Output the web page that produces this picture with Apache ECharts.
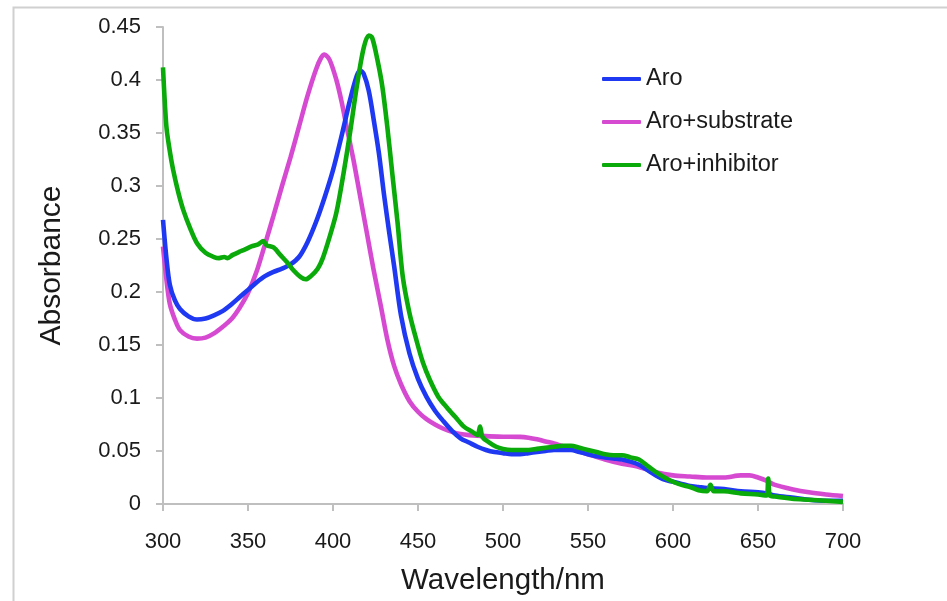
<!DOCTYPE html>
<html>
<head>
<meta charset="utf-8">
<script src="https://cdn.jsdelivr.net/npm/echarts@6/dist/echarts.min.js"></script>
<style>
html,body{margin:0;padding:0;background:#fff;}
#chart{width:947px;height:601px;}
</style>
</head>
<body>
<div id="chart"></div>
<script>
// Series names
const seriesNames = ['Aro', 'Aro+substrate', 'Aro+inhibitor'];

// Aro
const aroX = [300,302,304,307,310,315,320,325,330,335,340,345,350,355,360,365,370,375,380,385,390,395,400,405,410,414,416,418,421,424,427,430,433,436,440,445,450,455,460,465,470,475,480,485,490,495,500,505,510,515,520,525,530,535,540,545,550,555,560,565,570,575,580,585,590,595,600,605,610,615,620,630,640,650,655,660,670,680,690,700];
const aroY = [0.268,0.232,0.207,0.192,0.184,0.177,0.174,0.175,0.178,0.182,0.188,0.195,0.202,0.209,0.215,0.219,0.222,0.226,0.233,0.247,0.266,0.289,0.315,0.347,0.381,0.404,0.409,0.406,0.390,0.362,0.331,0.292,0.257,0.224,0.178,0.142,0.118,0.101,0.088,0.078,0.069,0.062,0.058,0.054,0.051,0.049,0.048,0.047,0.047,0.048,0.049,0.050,0.051,0.051,0.051,0.049,0.047,0.045,0.044,0.043,0.042,0.040,0.037,0.032,0.027,0.023,0.021,0.019,0.017,0.016,0.015,0.014,0.012,0.011,0.010,0.008,0.006,0.004,0.003,0.003];

// Aro+substrate
const subX = [300,302,304,307,310,315,320,325,330,335,340,345,350,355,360,365,370,375,380,385,390,393,395,398,402,405,408,412,416,420,424,428,432,436,440,445,450,455,460,465,470,475,480,490,500,510,515,520,525,530,540,550,560,570,580,590,600,610,620,630,640,645,650,655,660,670,680,690,700];
const subY = [0.243,0.212,0.189,0.174,0.164,0.158,0.156,0.157,0.161,0.167,0.174,0.185,0.199,0.219,0.245,0.272,0.300,0.327,0.356,0.385,0.410,0.421,0.424,0.419,0.400,0.380,0.356,0.325,0.290,0.255,0.220,0.188,0.155,0.130,0.113,0.097,0.087,0.080,0.075,0.071,0.068,0.066,0.065,0.064,0.0635,0.0633,0.0625,0.061,0.059,0.057,0.052,0.047,0.042,0.038,0.035,0.030,0.027,0.026,0.025,0.025,0.027,0.027,0.025,0.022,0.018,0.014,0.011,0.009,0.0075];

// Aro+inhibitor
const inhX = [300,302,304,306,309,312,316,320,325,330,333,336,338,341,345,348,352,356,359,361,365,369,373,377,381,384,387,391,394,398,402,406,410,414,418,421,423,426,429,432,435,438,441,445,449,453,457,462,467,472,477,482,485,486.5,488,492,496,500,505,510,515,520,525,530,535,540,545,550,555,560,565,570,575,580,585,590,595,600,605,610,615,620,622,624,630,640,650,655,656,657,660,670,680,690,700];
const inhY = [0.412,0.356,0.333,0.315,0.294,0.277,0.260,0.246,0.237,0.233,0.232,0.233,0.232,0.235,0.238,0.240,0.243,0.245,0.248,0.244,0.242,0.235,0.228,0.220,0.214,0.212,0.215,0.222,0.232,0.252,0.275,0.310,0.350,0.394,0.430,0.442,0.440,0.420,0.394,0.355,0.310,0.265,0.215,0.180,0.155,0.133,0.117,0.101,0.091,0.082,0.073,0.068,0.065,0.073,0.063,0.058,0.054,0.052,0.051,0.051,0.051,0.052,0.053,0.054,0.055,0.055,0.053,0.051,0.049,0.047,0.046,0.046,0.044,0.042,0.036,0.030,0.025,0.021,0.018,0.016,0.013,0.012,0.018,0.012,0.012,0.010,0.009,0.008,0.024,0.008,0.007,0.005,0.004,0.003,0.002];

// Axis settings
const xMin = 300, xMax = 700, xStep = 50;
const yMin = 0, yMax = 0.45, yStep = 0.05;

const colors = ['#1f38f2', '#d64ad2', '#0aaa0a'];
const FONT = '"Liberation Sans", Arial, sans-serif';

function pairs(xs, ys) { return xs.map((x, i) => [x, ys[i]]); }

const chart = echarts.init(document.getElementById('chart'), null, {renderer: 'canvas'});
const axisLine = {show: true, lineStyle: {color: '#bfbfbf', width: 2}};
chart.setOption({
  animation: false,
  backgroundColor: '#fff',
  color: colors,
  graphic: [{
    type: 'rect', left: 11, top: 5, silent: true,
    shape: {x: 0, y: 0, width: 1000, height: 700},
    style: {fill: 'none', stroke: '#d0d0d0', lineWidth: 2}
  }],
  grid: {left: 163, right: 104, top: 27, bottom: 97, containLabel: false},
  legend: {
    orient: 'vertical', left: 597, top: 62,
    itemWidth: 39, itemHeight: 4, itemGap: 19,
    icon: 'roundRect',
    textStyle: {fontFamily: FONT, fontSize: 23.5, color: '#1a1a1a'},
    data: seriesNames
  },
  xAxis: {
    type: 'value', min: xMin, max: xMax, interval: xStep,
    name: 'Wavelength/nm', nameLocation: 'middle', nameGap: 62,
    nameTextStyle: {fontFamily: FONT, fontSize: 29.5, color: '#1a1a1a'},
    axisLine: axisLine,
    axisTick: {show: true, length: 7, lineStyle: {color: '#bfbfbf', width: 2}},
    axisLabel: {fontFamily: FONT, fontSize: 22, color: '#1a1a1a', margin: 27},
    splitLine: {show: false}
  },
  yAxis: {
    type: 'value', min: yMin, max: yMax, interval: yStep,
    name: 'Absorbance', nameLocation: 'middle', nameGap: 96, nameRotate: 90,
    nameTextStyle: {fontFamily: FONT, fontSize: 30, color: '#1a1a1a'},
    axisLine: axisLine,
    axisTick: {show: true, length: 7, lineStyle: {color: '#bfbfbf', width: 2}},
    axisLabel: {fontFamily: FONT, fontSize: 22, color: '#1a1a1a', margin: 22},
    splitLine: {show: false}
  },
  series: [
    {name: seriesNames[0], type: 'line', data: pairs(aroX, aroY), showSymbol: false, smooth: 0.3, lineStyle: {width: 4.6, color: colors[0]}, z: 3},
    {name: seriesNames[1], type: 'line', data: pairs(subX, subY), showSymbol: false, smooth: 0.3, lineStyle: {width: 4.6, color: colors[1]}, z: 2},
    {name: seriesNames[2], type: 'line', data: pairs(inhX, inhY), showSymbol: false, smooth: 0.3, lineStyle: {width: 4.6, color: colors[2]}, z: 4}
  ]
});
</script>
</body>
</html>
